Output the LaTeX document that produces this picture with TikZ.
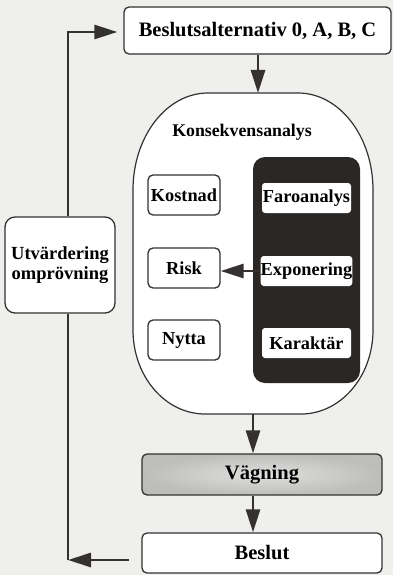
\documentclass[tikz,border=0pt]{standalone}
\usepackage{fontspec}
\setmainfont{Liberation Serif}
\usetikzlibrary{arrows.meta}

\definecolor{paper}{HTML}{EFEFED}
\definecolor{ink}{HTML}{353130}
\definecolor{darkpanel}{HTML}{2B2725}
\definecolor{weighfill}{HTML}{D2D2D0}
\definecolor{weighedge}{HTML}{BDBDBB}

\tikzset{
  box/.style={draw=ink, line width=1.3pt, rounded corners=5pt, fill=white,
              font=\fontsize{18.3}{20}\selectfont\bfseries, inner sep=0pt, align=center},
  bigbox/.style={box, font=\fontsize{20.5}{22}\selectfont\bfseries},
  innerbox/.style={box, draw=none, rounded corners=3pt},
  conn/.style={draw=ink, line width=2.8pt},
  arr/.style={conn, -{Triangle[length=23pt,width=14pt]}},
}

\begin{document}
\begin{tikzpicture}[x=1pt,y=1pt]
  % page
  \fill[paper] (0,0) rectangle (393,-575);
  \useasboundingbox (0,0) rectangle (393,-575);

  % main flow boxes
  \node[bigbox, minimum width=267pt, minimum height=47pt] (alt) at (257.5,-30.5) {Beslutsalternativ 0, A, B, C};
  \node[bigbox, minimum width=240pt, minimum height=41pt,
        inner color=weighfill!70!white, outer color=weighedge] (vag) at (262,-474.5) {Vägning};
  \node[bigbox, minimum width=240pt, minimum height=40pt] (beslut) at (262,-553) {Beslut};
  \node[box, minimum width=110pt, minimum height=96pt, rounded corners=10pt,
        font=\fontsize{18.5}{19.5}\selectfont\bfseries] (utv) at (60,-265) {Utvärdering\\omprövning};

  % consequence analysis outline
  \draw[ink, line width=1.2pt, fill=white]
    (133,-190) arc[start angle=180, end angle=90, x radius=75pt, y radius=97pt]
    -- (298,-93) arc[start angle=90, end angle=0, x radius=75pt, y radius=97pt]
    -- (373,-330) arc[start angle=0, end angle=-90, x radius=72pt, y radius=84pt]
    -- (205,-414) arc[start angle=270, end angle=180, x radius=72pt, y radius=84pt]
    -- cycle;
  \coordinate (ktop) at (258,-93);
  \coordinate (kbot) at (253,-414);
  \node[font=\fontsize{17.8}{20}\selectfont\bfseries] (ktitle) at (242,-132) {Konsekvensanalys};

  % effects column
  \node[box, minimum width=72pt, minimum height=40pt] (kost) at (184,-195) {Kostnad};
  \node[box, minimum width=72pt, minimum height=40pt] (risk) at (184,-268) {Risk};
  \node[box, minimum width=72pt, minimum height=40pt] (nytta) at (184,-340) {Nytta};

  % hazard column on dark panel
  \node[fill=darkpanel, rounded corners=12pt, minimum width=107pt, minimum height=226pt, inner sep=0pt] (panel) at (306.5,-270) {};
  \node[innerbox, minimum width=89pt, minimum height=30pt] (faro) at (306.5,-198) {Faroanalys};
  \node[innerbox, minimum width=89pt, minimum height=30pt] (expo) at (306.5,-271) {Exponering};
  \node[innerbox, minimum width=89pt, minimum height=30pt] (kar) at (306.5,-343) {Karaktär};

  % connectors
  \draw[arr] (ktop |- alt.south) -- (ktop);
  \draw[arr] (expo.west) -- (expo.west -| risk.east);
  \draw[arr] (kbot) -- (kbot |- vag.north);
  \draw[arr] (kbot |- vag.south) -- (kbot |- beslut.north);

  % feedback loop
  \coordinate (lb) at (68,-560);
  \coordinate (lt) at (68,-32);
  \draw[arr, shorten <=12pt] (beslut.west |- lb) -- (lb);
  \draw[conn] (lb) -- (lb |- utv.south);
  \draw[arr, shorten >=6pt] (lt |- utv.north) -- (lt) -- (alt.west |- lt);
\end{tikzpicture}
\end{document}
